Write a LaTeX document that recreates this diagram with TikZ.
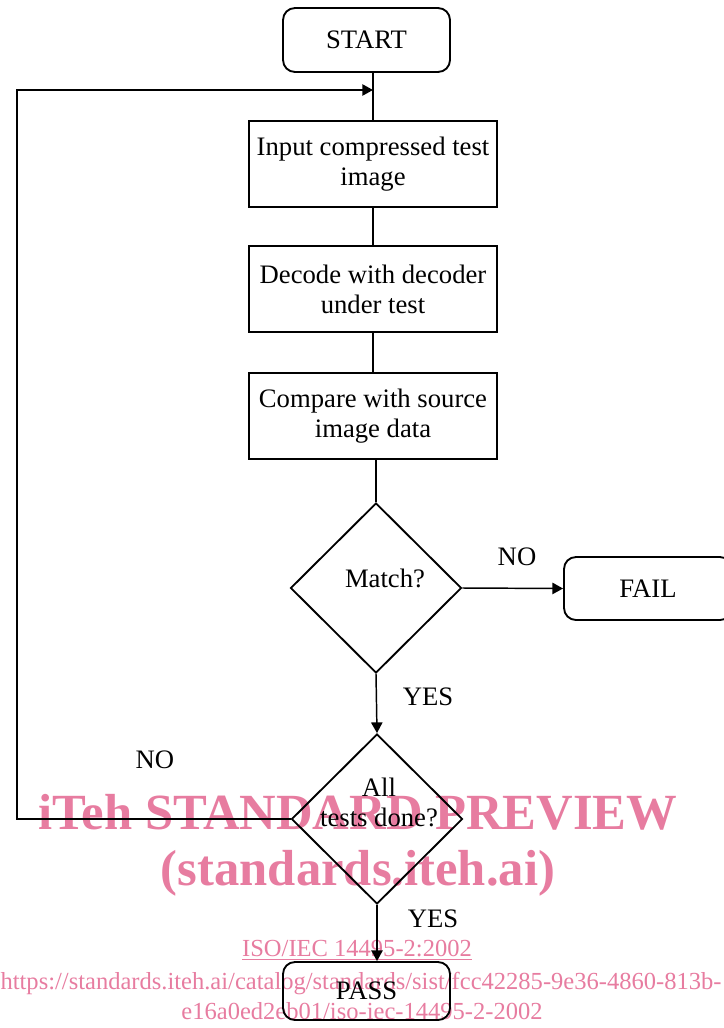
\documentclass[tikz,border=0pt]{standalone}
\usepackage{fontspec}
\setmainfont{Liberation Serif}
\usetikzlibrary{arrows.meta,calc,shapes.geometric}

\definecolor{wmpink}{RGB}{231,124,160}

\begin{document}
\begin{tikzpicture}[
  x=0.75pt,
  y=-0.75pt,
  >={Triangle[length=8pt,width=8.5pt]},
  every node/.style={font=\fontsize{20}{22.5}\selectfont},
  term/.style={draw=black, line width=1.4pt, rounded corners=9pt, minimum width=125.25pt, minimum height=48pt, inner sep=0pt},
  proc/.style={draw=black, line width=1.4pt, minimum width=186pt, minimum height=64.5pt, align=center, inner sep=0pt},
  decision/.style={draw=black, line width=1.4pt, diamond, minimum width=128.25pt, minimum height=127.5pt, inner sep=0pt},
  link/.style={draw=black, line width=1.1pt},
  flow/.style={link, ->},
  wmbig/.style={text=wmpink, font=\fontsize{38}{40}\selectfont\bfseries},
  wmsmall/.style={text=wmpink, font=\fontsize{18.4}{21}\selectfont}
]

% Page: y runs downwards, one unit is one pixel of the 724x1028 sheet.
\useasboundingbox (0,0) rectangle (724,1028);

% Watermark, kept under the chart.
\node[wmbig] (wmtitle) at (358,812) {iTeh STANDARD PREVIEW};
\node[wmbig] (wmsite) at (358,873) {(standards.iteh.ai)};
\node[wmsmall] (wmstd) at (357,950) {\underline{ISO/IEC 14495-2:2002}};
\node[wmsmall] (wmurl) at (361,983) {https://standards.iteh.ai/catalog/standards/sist/fcc42285-9e36-4860-813b-};
\node[wmsmall] (wmurltail) at (362,1011) {e16a0ed2eb01/iso-iec-14495-2-2002};

% Main column.
\node[term] (start) at (366.5,40) {START};
\node[proc] (input) at (373,164) {Input compressed test\\image};
\node[proc] (decode) at (373,289) {Decode with decoder\\under test};
\node[proc] (compare) at (373,416) {Compare with source\\image data};

\node[decision] (match) at (376,588) {};
\node (matchtxt) at ($(match)+(9,-10)$) {Match?};
\node[term, minimum width=126pt, minimum height=47.25pt] (fail) at (648,588.5) {FAIL};

\node[decision] (alltests) at (377,819) {};
\node[align=center] (alltxt) at ($(alltests)+(2,-17)$) {All\\tests done?};
\node[term, minimum height=43.5pt] (pass) at (366.5,991) {PASS};

% Connectors.
\draw[link] (start.south -| input.north) -- (input.north);
\draw[link] (input.south) -- (decode.north);
\draw[link] (decode.south) -- (compare.north);
\draw[link] (compare.south -| match.north) -- (match.north);
\draw[flow] (match.east) -- (fail.west);
\draw[flow] (match.south) -- (alltests.north);
\draw[flow] (alltests.south) -- (alltests.south |- pass.north);

% Loop back to the next test image.
\coordinate (loopturn) at (17,90);
\draw[flow] (alltests.west) -| (loopturn) -- (loopturn -| input.north);

% Branch labels.
\node (nofail) at (517,557) {NO};
\node (yesmatch) at (428,697) {YES};
\node (noloop) at (155,760) {NO};
\node (yesall) at (433,919) {YES};
\end{tikzpicture}
\end{document}
